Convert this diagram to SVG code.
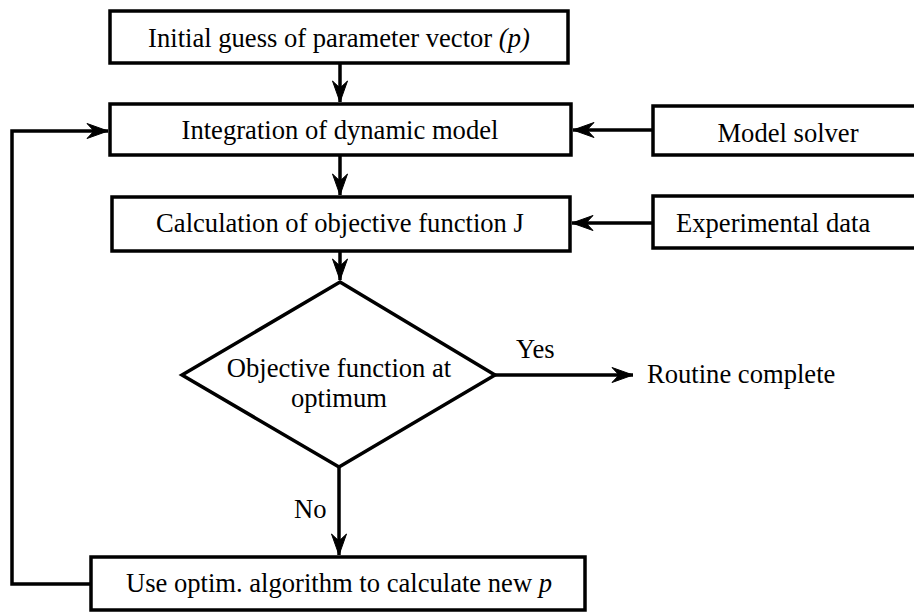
<svg xmlns="http://www.w3.org/2000/svg" width="914" height="612" viewBox="0 0 914 612">
<style>
.box{fill:#fff;stroke:#000;stroke-width:3.5}
.t{font-family:"Liberation Serif","Times New Roman",serif;font-size:26.6px;fill:#000}
.c{text-anchor:middle}
.ln{fill:none;stroke:#000;stroke-width:3.5}
</style>
<defs>
<marker id="ah" markerUnits="userSpaceOnUse" markerWidth="30" markerHeight="20" viewBox="-22 -10 24 20" refX="0" refY="0" orient="auto">
<path d="M0,0 L-21,-7.5 L-14,0 L-21,7.5 Z" fill="#000" stroke="#000" stroke-width="1"/>
</marker>
</defs>
<g id="connectors">
<line class="ln" x1="340" y1="63" x2="340" y2="102" marker-end="url(#ah)"/>
<line class="ln" x1="340" y1="155" x2="340" y2="195" marker-end="url(#ah)"/>
<line class="ln" x1="340" y1="251" x2="340" y2="280" marker-end="url(#ah)"/>
<line class="ln" x1="653" y1="130" x2="573" y2="130" marker-end="url(#ah)"/>
<line class="ln" x1="653" y1="223" x2="572" y2="223" marker-end="url(#ah)"/>
<line class="ln" x1="495" y1="375" x2="633" y2="375" marker-end="url(#ah)"/>
<line class="ln" x1="339" y1="467" x2="339" y2="555" marker-end="url(#ah)"/>
<polyline class="ln" points="91,584 12,584 12,131 108,131" marker-end="url(#ah)"/>
<text class="t" x="516" y="358">Yes</text>
<text class="t" x="294" y="518">No</text>
</g>
<g id="n1">
<rect class="box" x="110" y="11" width="458" height="52"/>
<text class="t c" x="339" y="47">Initial guess of parameter vector <tspan font-style="italic">(p)</tspan></text>
</g>
<g id="n2">
<rect class="box" x="110" y="104" width="461" height="51"/>
<text class="t c" x="340" y="139">Integration of dynamic model</text>
</g>
<g id="n3">
<rect class="box" x="112" y="197" width="458" height="54"/>
<text class="t c" x="340" y="232">Calculation of objective function J</text>
</g>
<g id="n4">
<rect class="box" x="653" y="106" width="264" height="49"/>
<text class="t c" x="788" y="142">Model solver</text>
</g>
<g id="n5">
<rect class="box" x="653" y="196" width="264" height="52"/>
<text class="t" x="676" y="232">Experimental data</text>
</g>
<g id="n6">
<polygon class="box" points="340,282 495,375 339,467 182,375"/>
<text class="t c" x="339" y="377">Objective function at</text>
<text class="t c" x="339" y="407">optimum</text>
</g>
<g id="n7">
<text class="t" x="647" y="383">Routine complete</text>
</g>
<g id="n8">
<rect class="box" x="91" y="557" width="494" height="53"/>
<text class="t c" x="339" y="592">Use optim. algorithm to calculate new <tspan font-style="italic">p</tspan></text>
</g>
</svg>
